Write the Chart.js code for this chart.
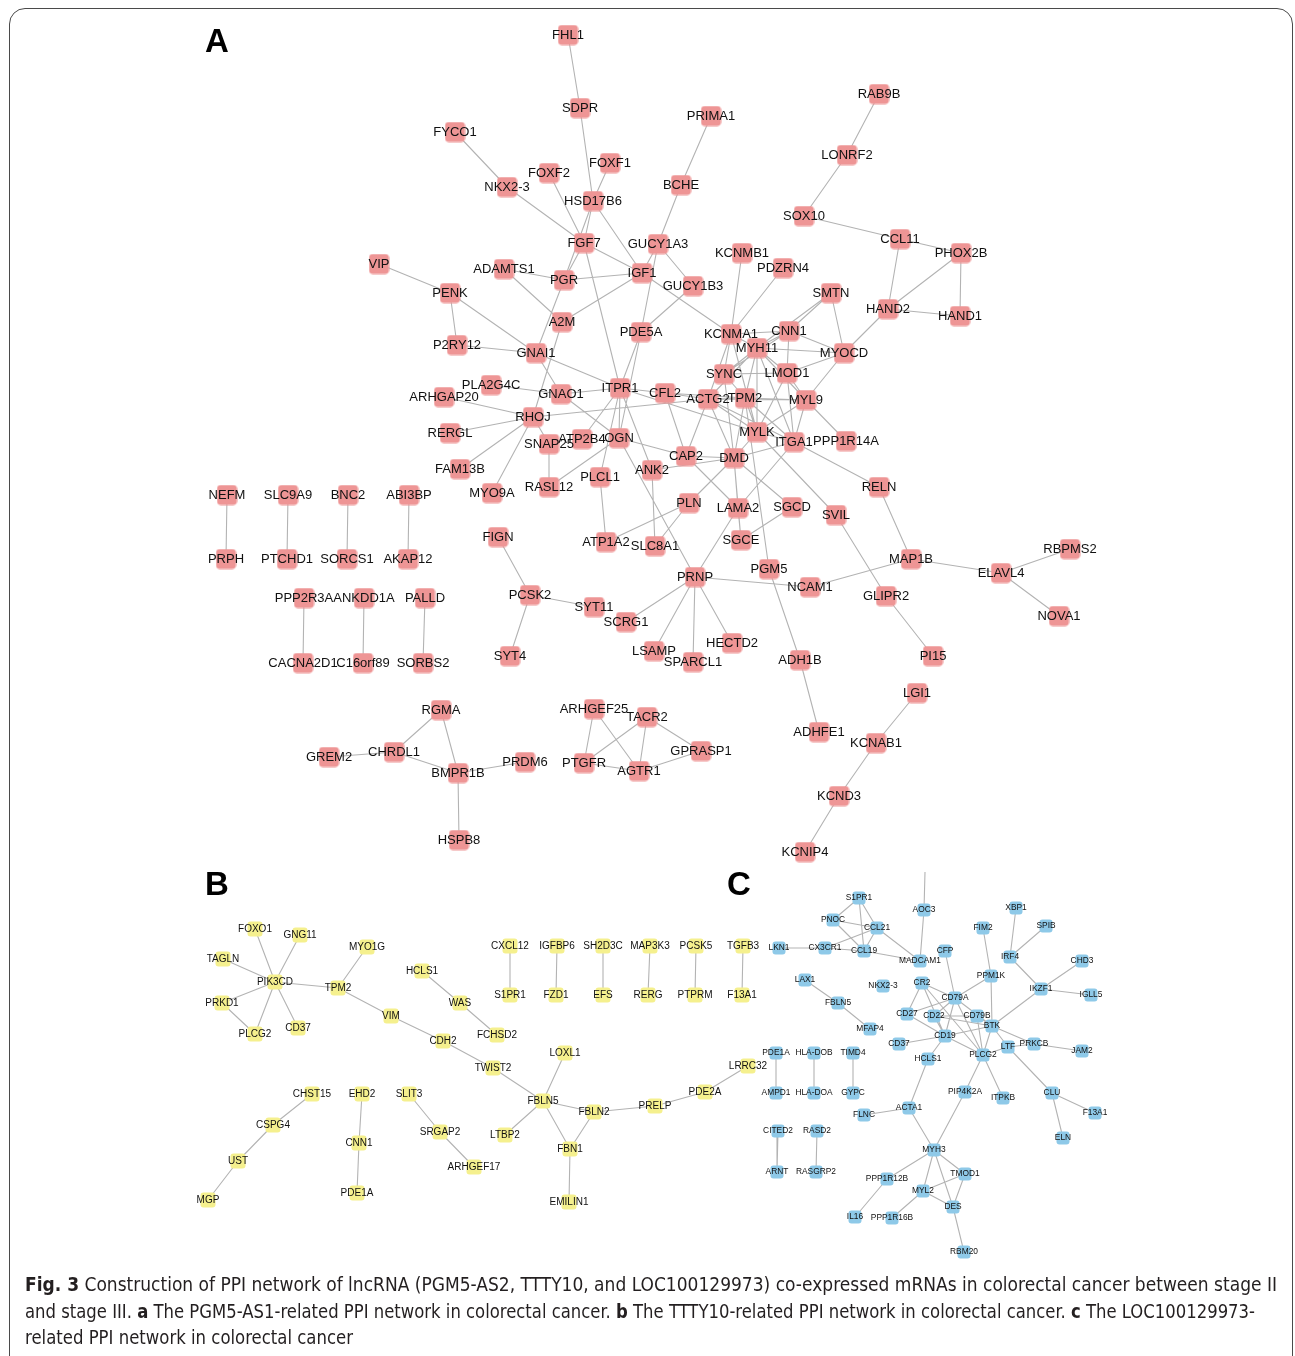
<!DOCTYPE html>
<html><head><meta charset="utf-8">
<script src="https://cdn.jsdelivr.net/npm/chart.js@4.4.0/dist/chart.umd.min.js"></script>
<style>
html,body{margin:0;padding:0;background:#fff;}
#wrap{position:relative;width:1295px;height:1356px;overflow:hidden;}
#frame{position:absolute;left:9px;top:8px;width:1284px;height:1400px;border:1.5px solid #4a4a4a;border-radius:16px;box-sizing:border-box;}
#chart{position:absolute;left:0;top:0;}
.letter{position:absolute;font-family:"Liberation Sans",Arial,sans-serif;font-weight:bold;font-size:33px;color:#000;line-height:1;}
.cap{position:absolute;left:25px;white-space:nowrap;font-family:"Liberation Sans Narrow","DejaVu Sans Condensed","Open Sans",sans-serif;font-stretch:condensed;font-size:19px;color:#231f20;transform-origin:0 50%;line-height:26px;}
</style></head>
<body>
<div id="wrap">
<div id="frame"></div>
<canvas id="chart" width="1295" height="1356"></canvas>
<div class="letter" style="left:205px;top:24px;">A</div>
<div class="letter" style="left:205px;top:867px;">B</div>
<div class="letter" style="left:727px;top:867px;">C</div>
<div class="cap" id="l1" style="top:1271px;"><b>Fig. 3</b> Construction of PPI network of lncRNA (PGM5-AS2, TTTY10, and LOC100129973) co-expressed mRNAs in colorectal cancer between stage II</div>
<div class="cap" id="l2" style="top:1298px;">and stage III. <b>a</b> The PGM5-AS1-related PPI network in colorectal cancer. <b>b</b> The TTTY10-related PPI network in colorectal cancer. <b>c</b> The LOC100129973-</div>
<div class="cap" id="l3" style="top:1324px;">related PPI network in colorectal cancer</div>
</div>
<script>
// ---------------- Panel A (PGM5-AS1 network) ----------------
const aNames = ["FHL1","SDPR","PRIMA1","FYCO1","FOXF1","FOXF2","NKX2-3","BCHE","HSD17B6","FGF7","GUCY1A3","KCNMB1","VIP","ADAMTS1","PGR","IGF1","GUCY1B3","PENK","A2M","PDE5A","KCNMA1","P2RY12","GNAI1","PLA2G4C","GNAO1","ITPR1","ARHGAP20","RHOJ","RERGL","SNAP25","ATP2B4","OGN","FAM13B","MYO9A","RASL12","PLCL1","ANK2","CFL2","RAB9B","LONRF2","SOX10","CCL11","PHOX2B","PDZRN4","SMTN","HAND2","HAND1","CNN1","MYOCD","MYH11","SYNC","LMOD1","ACTG2","TPM2","MYL9","MYLK","ITGA1","PPP1R14A","CAP2","DMD","RELN","PLN","LAMA2","SGCD","SVIL","SGCE","FIGN","ATP1A2","SLC8A1","PGM5","PRNP","NCAM1","MAP1B","ELAVL4","RBPMS2","GLIPR2","PCSK2","SYT11","SCRG1","NOVA1","SYT4","LSAMP","SPARCL1","HECTD2","ADH1B","PI15","LGI1","NEFM","SLC9A9","BNC2","ABI3BP","PRPH","PTCHD1","SORCS1","AKAP12","PPP2R3A","ANKDD1A","PALLD","CACNA2D1","C16orf89","SORBS2","RGMA","ARHGEF25","TACR2","ADHFE1","GREM2","CHRDL1","KCNAB1","PRDM6","BMPR1B","PTGFR","AGTR1","GPRASP1","KCND3","HSPB8","KCNIP4"];
const aX = [568,580,711,455,610,549,507,681,593,584,658,742,379,504,564,642,693,450,562,641,731,457,536,491,561,620,444,533,450,549,582,619,460,492,549,600,652,665,879,847,804,900,961,783,831,888,960,789,844,757,724,787,708,745,806,757,794,846,686,734,879,689,738,792,836,741,498,606,655,769,695,810,911,1001,1070,886,530,594,626,1059,510,654,693,732,800,933,917,227,288,348,409,226,287,347,408,304,364,425,303,363,423,441,594,647,819,329,394,876,525,458,584,639,701,839,459,805];
const aY = [35,108,116,132,163,173,187,185,201,243,244,253,264,269,280,273,286,293,322,332,334,345,353,385,394,388,397,417,433,444,439,438,469,493,487,477,470,393,94,155,216,239,253,268,293,309,316,331,353,348,374,373,399,398,400,432,442,441,456,458,487,503,508,507,515,540,537,542,546,569,577,587,559,573,549,596,595,607,622,616,656,651,662,643,660,656,693,495,495,495,495,559,559,559,559,598,598,598,663,663,663,710,709,717,732,757,752,743,762,773,763,771,751,796,840,852];
const aEdges = [["FHL1","SDPR"],["SDPR","HSD17B6"],["PRIMA1","BCHE"],["BCHE","GUCY1A3"],["FYCO1","NKX2-3"],["NKX2-3","FGF7"],["FOXF2","FGF7"],["FOXF1","HSD17B6"],["HSD17B6","FGF7"],["HSD17B6","PGR"],["HSD17B6","IGF1"],["FGF7","PGR"],["FGF7","IGF1"],["FGF7","ITPR1"],["GUCY1A3","IGF1"],["GUCY1A3","GUCY1B3"],["GUCY1A3","PDE5A"],["GUCY1B3","PDE5A"],["IGF1","PGR"],["IGF1","A2M"],["IGF1","KCNMA1"],["ADAMTS1","PGR"],["ADAMTS1","A2M"],["PGR","GNAI1"],["A2M","RHOJ"],["VIP","PENK"],["PENK","P2RY12"],["PENK","GNAI1"],["P2RY12","GNAI1"],["GNAI1","ITPR1"],["GNAI1","GNAO1"],["PLA2G4C","GNAO1"],["GNAO1","ITPR1"],["GNAO1","OGN"],["ARHGAP20","RHOJ"],["RERGL","RHOJ"],["FAM13B","RHOJ"],["MYO9A","RHOJ"],["RHOJ","SNAP25"],["SNAP25","RASL12"],["RHOJ","ACTG2"],["ITPR1","PDE5A"],["ITPR1","CFL2"],["ITPR1","ATP2B4"],["ITPR1","OGN"],["ITPR1","PLCL1"],["ITPR1","ANK2"],["ITPR1","MYLK"],["PDE5A","OGN"],["OGN","RASL12"],["OGN","CAP2"],["OGN","PRNP"],["PLCL1","ATP1A2"],["ANK2","SLC8A1"],["ANK2","DMD"],["CFL2","ACTG2"],["CFL2","CAP2"],["CFL2","TPM2"],["KCNMB1","KCNMA1"],["PDZRN4","KCNMA1"],["KCNMA1","MYH11"],["KCNMA1","CNN1"],["KCNMA1","SYNC"],["KCNMA1","ACTG2"],["KCNMA1","MYLK"],["MYH11","CNN1"],["MYH11","MYOCD"],["MYH11","SYNC"],["MYH11","LMOD1"],["MYH11","ACTG2"],["MYH11","TPM2"],["MYH11","MYL9"],["MYH11","MYLK"],["MYH11","ITGA1"],["SMTN","CNN1"],["SMTN","MYH11"],["SMTN","MYOCD"],["CNN1","MYOCD"],["CNN1","LMOD1"],["CNN1","SYNC"],["MYOCD","LMOD1"],["MYOCD","MYL9"],["MYOCD","HAND2"],["SYNC","LMOD1"],["SYNC","TPM2"],["SYNC","DMD"],["LMOD1","MYL9"],["LMOD1","MYLK"],["LMOD1","ITGA1"],["ACTG2","TPM2"],["ACTG2","MYL9"],["ACTG2","MYLK"],["ACTG2","ITGA1"],["ACTG2","DMD"],["ACTG2","CAP2"],["TPM2","MYL9"],["TPM2","MYLK"],["TPM2","DMD"],["TPM2","ITGA1"],["TPM2","PGM5"],["MYL9","MYLK"],["MYL9","ITGA1"],["MYL9","PPP1R14A"],["MYLK","ITGA1"],["MYLK","DMD"],["MYLK","SVIL"],["ITGA1","DMD"],["ITGA1","LAMA2"],["ITGA1","RELN"],["DMD","CAP2"],["DMD","LAMA2"],["DMD","SGCD"],["DMD","SGCE"],["DMD","PLN"],["CAP2","LAMA2"],["LAMA2","SGCE"],["LAMA2","PRNP"],["SGCD","SGCE"],["PLN","ATP1A2"],["PLN","SLC8A1"],["PGM5","ADH1B"],["ADH1B","ADHFE1"],["SVIL","GLIPR2"],["GLIPR2","PI15"],["RELN","MAP1B"],["MAP1B","NCAM1"],["MAP1B","ELAVL4"],["ELAVL4","RBPMS2"],["ELAVL4","NOVA1"],["PRNP","NCAM1"],["PRNP","SCRG1"],["PRNP","LSAMP"],["PRNP","SPARCL1"],["PRNP","HECTD2"],["FIGN","PCSK2"],["PCSK2","SYT11"],["PCSK2","SYT4"],["LGI1","KCNAB1"],["KCNAB1","KCND3"],["KCND3","KCNIP4"],["RAB9B","LONRF2"],["LONRF2","SOX10"],["SOX10","CCL11"],["CCL11","PHOX2B"],["CCL11","HAND2"],["PHOX2B","HAND2"],["PHOX2B","HAND1"],["HAND2","HAND1"],["NEFM","PRPH"],["SLC9A9","PTCHD1"],["BNC2","SORCS1"],["ABI3BP","AKAP12"],["PPP2R3A","CACNA2D1"],["ANKDD1A","C16orf89"],["PALLD","SORBS2"],["RGMA","CHRDL1"],["RGMA","BMPR1B"],["GREM2","CHRDL1"],["CHRDL1","BMPR1B"],["BMPR1B","PRDM6"],["BMPR1B","HSPB8"],["ARHGEF25","PTGFR"],["ARHGEF25","AGTR1"],["TACR2","PTGFR"],["TACR2","AGTR1"],["TACR2","GPRASP1"],["PTGFR","AGTR1"],["AGTR1","GPRASP1"]];

// ---------------- Panel B (TTTY10 network) ----------------
const bNames = ["FOXO1","GNG11","MYO1G","TAGLN","PIK3CD","HCLS1","TPM2","PRKD1","WAS","CD37","PLCG2","VIM","FCHSD2","CDH2","TWIST2","CHST15","EHD2","SLIT3","CSPG4","CNN1","SRGAP2","LTBP2","UST","ARHGEF17","PDE1A","MGP","CXCL12","IGFBP6","SH2D3C","MAP3K3","PCSK5","TGFB3","S1PR1","FZD1","EFS","RERG","PTPRM","F13A1","LOXL1","LRRC32","PDE2A","FBLN5","PRELP","FBLN2","FBN1","EMILIN1"];
const bX = [255,300,367,223,275,422,338,222,460,298,255,391,497,443,493,312,362,409,273,359,440,505,238,474,357,208,510,557,603,650,696,743,510,556,603,648,695,742,565,748,705,543,655,594,570,569];
const bY = [929,935,947,959,982,971,988,1003,1003,1028,1034,1016,1035,1041,1068,1094,1094,1094,1125,1143,1132,1135,1161,1167,1193,1200,946,946,946,946,946,946,995,995,995,995,995,995,1053,1066,1092,1101,1106,1112,1149,1202];
const bEdges = [["PIK3CD","FOXO1"],["PIK3CD","GNG11"],["PIK3CD","TAGLN"],["PIK3CD","PRKD1"],["PIK3CD","PLCG2"],["PIK3CD","CD37"],["PIK3CD","TPM2"],["PRKD1","PLCG2"],["TPM2","MYO1G"],["TPM2","VIM"],["VIM","CDH2"],["CDH2","TWIST2"],["TWIST2","FBLN5"],["HCLS1","WAS"],["WAS","FCHSD2"],["CXCL12","S1PR1"],["IGFBP6","FZD1"],["SH2D3C","EFS"],["MAP3K3","RERG"],["PCSK5","PTPRM"],["TGFB3","F13A1"],["FBLN5","LOXL1"],["FBLN5","LTBP2"],["FBLN5","FBLN2"],["FBLN5","FBN1"],["FBN1","FBLN2"],["FBN1","EMILIN1"],["FBLN2","PRELP"],["PRELP","PDE2A"],["PDE2A","LRRC32"],["CHST15","CSPG4"],["CSPG4","UST"],["UST","MGP"],["EHD2","CNN1"],["CNN1","PDE1A"],["SLIT3","SRGAP2"],["SRGAP2","ARHGEF17"]];

// ---------------- Panel C (LOC100129973 network) ----------------
const cNames = ["","S1PR1","AOC3","XBP1","PNOC","FIM2","SPIB","CCL21","LKN1","CX3CR1","CCL19","CFP","MADCAM1","IRF4","CHD3","LAX1","PPM1K","NKX2-3","CR2","IKZF1","IGLL5","CD79A","FBLN5","CD27","CD22","CD79B","BTK","MFAP4","CD19","CD37","LTF","PRKCB","JAM2","PDE1A","HLA-DOB","TIMD4","HCLS1","PLCG2","PIP4K2A","ITPKB","CLU","AMPD1","HLA-DOA","GYPC","ACTA1","FLNC","F13A1","CITED2","RASD2","ELN","MYH3","ARNT","RASGRP2","TMOD1","PPP1R12B","MYL2","DES","IL16","PPP1R16B","RBM20"];
const cX = [925,859,924,1016,833,983,1046,877,779,825,864,945,920,1010,1082,805,991,883,922,1041,1091,955,838,907,934,977,992,870,945,899,1008,1034,1082,776,814,853,928,983,965,1003,1052,776,814,853,909,864,1095,778,817,1063,934,777,816,965,887,923,953,855,892,964];
const cY = [872,898,910,908,920,928,926,928,948,948,951,951,961,957,961,980,976,986,983,989,995,998,1003,1014,1016,1016,1026,1029,1036,1044,1047,1044,1051,1053,1053,1053,1059,1055,1092,1098,1093,1093,1093,1093,1108,1115,1113,1131,1131,1138,1150,1172,1172,1174,1179,1191,1207,1217,1218,1252];
const cEdges = [["S1PR1","PNOC"],["S1PR1","CCL21"],["S1PR1","CCL19"],["PNOC","CCL21"],["PNOC","CCL19"],["CCL21","CCL19"],["CCL21","CX3CR1"],["CX3CR1","LKN1"],["CX3CR1","CCL19"],["CCL19","MADCAM1"],["CCL21","MADCAM1"],["AOC3","MADCAM1"],["AOC3",""],["CFP","CD79A"],["FIM2","PPM1K"],["PPM1K","CD79A"],["PPM1K","BTK"],["XBP1","IRF4"],["SPIB","IRF4"],["IRF4","IKZF1"],["IKZF1","CHD3"],["IKZF1","IGLL5"],["IKZF1","BTK"],["LAX1","FBLN5"],["FBLN5","MFAP4"],["CR2","CD79A"],["CR2","CD19"],["CR2","CD27"],["CR2","PLCG2"],["CD27","CD79A"],["CD27","CD19"],["CD22","CD79B"],["CD22","BTK"],["CD22","CD19"],["CD79A","CD19"],["CD79A","BTK"],["CD79A","PLCG2"],["CD79A","CD22"],["CD79B","PLCG2"],["CD79B","BTK"],["CD19","BTK"],["CD19","PLCG2"],["CD19","CD37"],["CD19","HCLS1"],["BTK","PLCG2"],["BTK","LTF"],["BTK","PRKCB"],["PRKCB","JAM2"],["PRKCB","LTF"],["LTF","PLCG2"],["LTF","CLU"],["PLCG2","PIP4K2A"],["PLCG2","ITPKB"],["HCLS1","ACTA1"],["ACTA1","FLNC"],["ACTA1","MYH3"],["PIP4K2A","MYH3"],["CLU","F13A1"],["CLU","ELN"],["MYH3","PPP1R12B"],["MYH3","MYL2"],["MYH3","DES"],["MYH3","TMOD1"],["TMOD1","MYL2"],["TMOD1","DES"],["MYL2","DES"],["PPP1R12B","IL16"],["MYL2","PPP1R16B"],["DES","RBM20"],["PDE1A","AMPD1"],["HLA-DOB","HLA-DOA"],["TIMD4","GYPC"],["CITED2","ARNT"],["RASD2","RASGRP2"]];

// ---------------- build ----------------
function nodeSquare(size, color, r){
  const c = document.createElement('canvas');
  c.width = size; c.height = size;
  const g = c.getContext('2d');
  g.fillStyle = color;
  g.beginPath();
  g.roundRect(0.5, 0.5, size-1, size-1, r);
  g.fill();
  return c;
}
const panels = [
  {names:aNames, xs:aX, ys:aY, edges:aEdges, color:'#ee9595', size:21, r:4, font:'13px "Liberation Sans", Arial, sans-serif'},
  {names:bNames, xs:bX, ys:bY, edges:bEdges, color:'#f5f08e', size:16, r:3, font:'10px "Liberation Sans", Arial, sans-serif'},
  {names:cNames, xs:cX, ys:cY, edges:cEdges, color:'#8ec9e8', size:14, r:3, font:'8.4px "Liberation Sans", Arial, sans-serif'}
];
const datasets = [];
panels.forEach(p => {
  const pts = p.names.map((n,i) => ({x:p.xs[i], y:p.ys[i]}));
  const edgeData = [];
  p.edges.forEach(([a,b]) => {
    const ia = p.names.indexOf(a), ib = p.names.indexOf(b);
    edgeData.push(pts[ia], pts[ib], {x:null, y:null});
  });
  datasets.push({type:'scatter', data:edgeData, showLine:true, spanGaps:false, pointRadius:0,
    borderColor:'#b3b3b3', borderWidth:1.1, order:10});
  const img = nodeSquare(p.size, p.color, p.r);
  datasets.push({type:'scatter', data:pts, pointStyle:img,
    radius: ctx => p.names[ctx.dataIndex] ? p.size/2 : 0, order:1});
});

const labelPlugin = {
  id:'nodeLabels',
  afterDatasetsDraw(chart){
    const {ctx, scales:{x, y}} = chart;
    panels.forEach(p => {
      ctx.save();
      ctx.font = p.font;
      ctx.fillStyle = '#111';
      ctx.textAlign = 'center';
      ctx.textBaseline = 'middle';
      p.names.forEach((n,i) => {
        if (!n) return;
        ctx.fillText(n, x.getPixelForValue(p.xs[i]), y.getPixelForValue(p.ys[i]));
      });
      ctx.restore();
    });
  }
};

new Chart(document.getElementById('chart'), {
  type:'scatter',
  data:{datasets},
  options:{
    responsive:false, animation:false, events:[],
    layout:{padding:0, autoPadding:false},
    plugins:{legend:{display:false}, tooltip:{enabled:false}},
    scales:{
      x:{type:'linear', min:0, max:1295, display:false},
      y:{type:'linear', min:0, max:1356, reverse:true, display:false}
    }
  },
  plugins:[labelPlugin]
});

// fit each caption line to the reference line width
const capWidths = {l1:1252, l2:1230, l3:328};
function fitCaption(){
  Object.keys(capWidths).forEach(id => {
    const el = document.getElementById(id);
    el.style.transform = 'none';
    const w = el.getBoundingClientRect().width;
    el.style.transform = 'scaleX(' + (capWidths[id] / w) + ')';
  });
}
fitCaption();
if (document.fonts && document.fonts.ready) document.fonts.ready.then(fitCaption);
</script>
</body></html>
